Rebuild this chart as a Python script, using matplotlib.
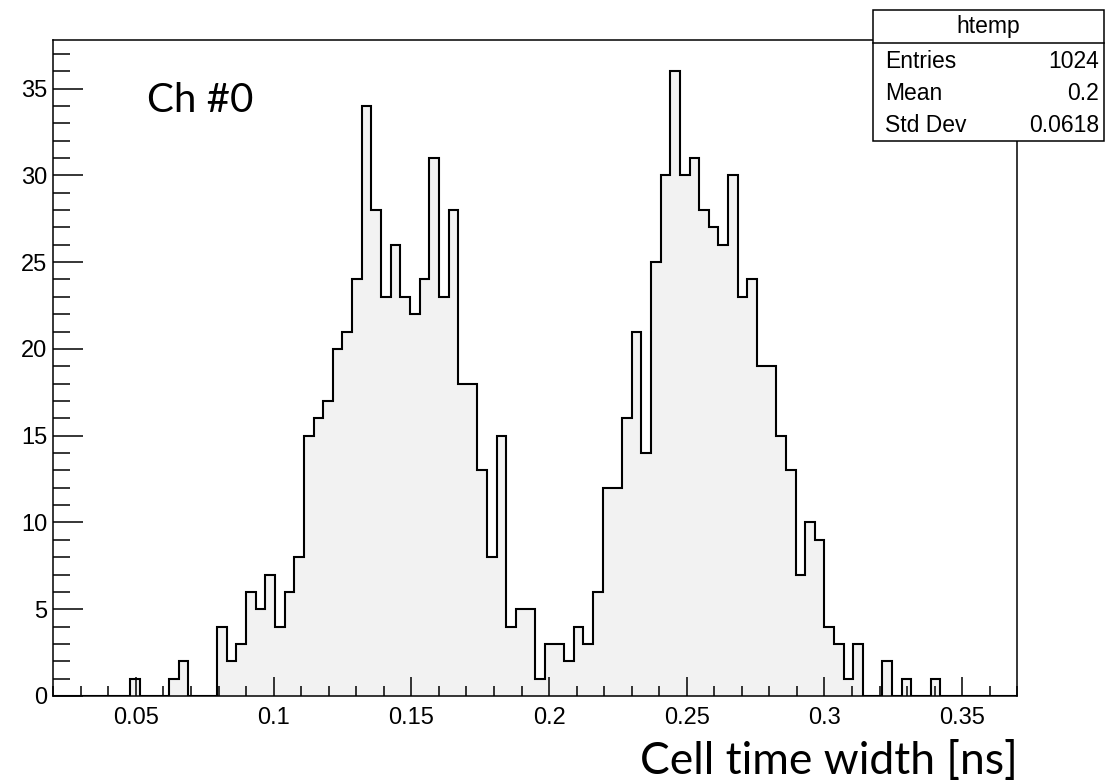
import numpy as np
import matplotlib.pyplot as plt
from matplotlib.patches import Rectangle
from matplotlib.ticker import MultipleLocator

# histogram: 100 bins from 0.02 to 0.37 (ROOT htemp)
x_lo, x_hi, n_bins = 0.02, 0.37, 100
counts = [
    0, 0, 0, 0, 0, 0, 0, 0, 1, 0,
    0, 0, 1, 2, 0, 0, 0, 4, 2, 3,
    6, 5, 7, 4, 6, 8, 15, 16, 17, 20,
    21, 24, 34, 28, 23, 26, 23, 22, 24, 31,
    23, 28, 18, 18, 13, 8, 15, 4, 5, 5,
    1, 3, 3, 2, 4, 3, 6, 12, 12, 16,
    21, 14, 25, 30, 36, 30, 31, 28, 27, 26,
    30, 23, 24, 19, 19, 15, 13, 7, 10, 9,
    4, 3, 1, 3, 0, 0, 2, 0, 1, 0,
    0, 1, 0, 0, 0, 0, 0, 0, 0, 0,
]

stat_names = ['Entries', 'Mean', 'Std Dev']
stat_values = ['1024', '0.2', '0.0618']
hist_name = 'htemp'
channel = 'Ch #0'
x_title = 'Cell time width [ns]'

edges = np.linspace(x_lo, x_hi, n_bins + 1)
counts = np.array(counts)

W, H = 1106, 784
fig = plt.figure(figsize=(W / 100, H / 100), dpi=100)
fig.patch.set_facecolor('white')

# axes frame in pixels: left 53, right 1017, top 40, bottom 696
ax = fig.add_axes([53.3 / W, (H - 696) / H, 964 / W, 656 / H])

ax.stairs(counts, edges, baseline=0, fill=True, facecolor='#f2f2f2',
          edgecolor='none')
ax.stairs(counts, edges, baseline=0, fill=False, color='black', lw=1.5)

ax.set_xlim(x_lo, x_hi)
ax.set_ylim(0, counts.max() * 1.05)

root_font = 'Liberation Sans'
ax.xaxis.set_major_locator(MultipleLocator(0.05))
ax.xaxis.set_minor_locator(MultipleLocator(0.01))
ax.yaxis.set_major_locator(MultipleLocator(5))
ax.yaxis.set_minor_locator(MultipleLocator(1))
ax.set_xticks([0.05, 0.1, 0.15, 0.2, 0.25, 0.3, 0.35])
ax.set_xticklabels(['0.05', '0.1', '0.15', '0.2', '0.25', '0.3', '0.35'])

ax.tick_params(axis='y', which='major', direction='in', length=21.6,
               width=1.1, pad=4.5, labelsize=17)
ax.tick_params(axis='y', which='minor', direction='in', length=12, width=1.1)
ax.tick_params(axis='x', which='major', direction='in', length=13.9,
               width=1.1, pad=8, labelsize=17)
ax.tick_params(axis='x', which='minor', direction='in', length=7.4, width=1.1)
for lab in ax.get_xticklabels() + ax.get_yticklabels():
    lab.set_fontfamily(root_font)

for sp in ax.spines.values():
    sp.set_linewidth(1.1)

# stats box
def px(x, y):
    return x / W, 1 - y / H

bx0, bx1, by0, by1, bsep = 872.7, 1104, 10, 141, 42.7
box = Rectangle(px(bx0, by1), (bx1 - bx0) / W, (by1 - by0) / H,
                transform=fig.transFigure, facecolor='white',
                edgecolor='black', lw=1.1, zorder=5)
fig.patches.append(box)
fig.add_artist(plt.Line2D([bx0 / W, bx1 / W], [1 - bsep / H] * 2,
                          transform=fig.transFigure, color='black', lw=1.1,
                          zorder=6))
fig.text(*px((bx0 + bx1) / 2, 27), hist_name, ha='center', va='center',
         fontsize=16.5, family=root_font, zorder=7)
for i, (nm, val) in enumerate(zip(stat_names, stat_values)):
    yy = 61.5 + 32 * i
    fig.text(*px(885, yy), nm, ha='left', va='center', fontsize=16.5,
             family=root_font, zorder=7)
    fig.text(*px(1099, yy), val, ha='right', va='center', fontsize=16.5,
             family=root_font, zorder=7)

# annotations in a Calibri-like face
fig.text(*px(147, 101), channel, ha='left', va='center', fontsize=29,
         family='Lato')
fig.text(*px(1018, 762), x_title, ha='right', va='center', fontsize=32,
         family='Lato')

fig.savefig('out.png', dpi=100)
